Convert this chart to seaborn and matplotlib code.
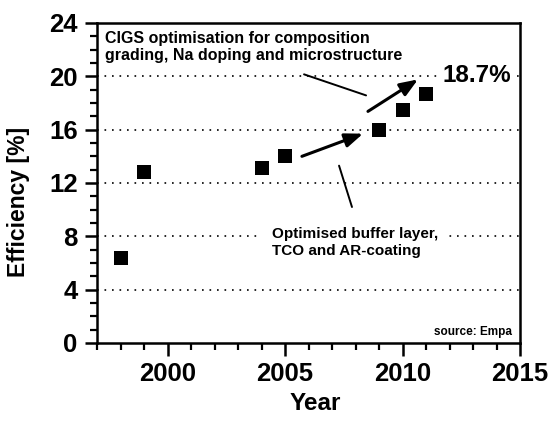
import matplotlib
matplotlib.use("Agg")
import matplotlib.pyplot as plt
import seaborn as sns
import pandas as pd
from matplotlib.ticker import MultipleLocator

# ---- data ----
years = [1998, 1999, 2004, 2005, 2009, 2010, 2011]
efficiency = [6.4, 12.8, 13.1, 14.0, 16.0, 17.5, 18.7]
grid_levels = [4, 8, 12, 16, 20]
x_ticks = [2000, 2005, 2010, 2015]
y_ticks = [0, 4, 8, 12, 16, 20, 24]

df = pd.DataFrame({"Year": years, "Efficiency": efficiency})

sns.set_theme(style="white")
plt.rcParams["font.family"] = ["Liberation Sans", "DejaVu Sans"]
plt.rcParams["text.color"] = "black"
plt.rcParams["axes.labelcolor"] = "black"
plt.rcParams["xtick.color"] = "black"
plt.rcParams["ytick.color"] = "black"

fig = plt.figure(figsize=(5.51, 4.25), dpi=100)
ax = fig.add_axes([97 / 551, 1 - 343 / 425, 423 / 551, 320 / 425])

for lv in grid_levels:
    ax.axhline(lv, color="black", lw=1.2, linestyle=(0, (1, 3.5)), zorder=1)

sns.scatterplot(data=df, x="Year", y="Efficiency", marker="s", s=110,
                color="black", edgecolor="black", linewidth=0, ax=ax, zorder=3)

ax.set_xlim(1997, 2015)
ax.set_ylim(0, 24)
ax.set_xticks(x_ticks)
ax.set_yticks(y_ticks)
ax.xaxis.set_minor_locator(MultipleLocator(1))
ax.yaxis.set_minor_locator(MultipleLocator(1))

for s in ax.spines.values():
    s.set_color("black")
    s.set_linewidth(1.8)

ax.tick_params(which="major", direction="out", length=9, width=1.8, colors="black",
               labelsize=18.5, pad=5, bottom=True, left=True)
ax.tick_params(which="minor", direction="out", length=5, width=1.6, colors="black",
               bottom=True, left=True)
for lab in ax.get_xticklabels() + ax.get_yticklabels():
    lab.set_fontweight("bold")
    lab.set_color("black")

ax.set_xlabel("Year", fontsize=17.5, fontweight="bold", color="black")
ax.set_ylabel("Efficiency [%]", fontsize=16.5, fontweight="bold", color="black")
ax.xaxis.set_label_coords(0.515, -0.153)
ax.yaxis.set_label_coords(-0.158, 0.44)

# ---- annotations ----
ax.text(1997.34, 23.4, "CIGS optimisation for composition\ngrading, Na doping and microstructure",
        fontsize=11.5, fontweight="bold", va="top", ha="left", linespacing=1.15, zorder=4,
        color="black")
ax.text(2011.72, 20.1, "18.7%", fontsize=17.5, fontweight="bold", va="center", ha="left",
        zorder=4, color="black", bbox=dict(facecolor="white", edgecolor="none", pad=1))
ax.text(2004.45, 8.7, "Optimised buffer layer,\nTCO and AR-coating",
        fontsize=11, fontweight="bold", va="top", ha="left", linespacing=1.3, zorder=4,
        color="black", bbox=dict(facecolor="white", edgecolor="none", pad=8))
ax.text(0.981, 0.034, "source: Empa", fontsize=8.5, fontweight="bold", color="black",
        transform=ax.transAxes, ha="right", va="center", zorder=4)

arrow_kw = dict(arrowstyle="-|>,head_length=0.9,head_width=0.35", color="black", lw=2.2,
                shrinkA=0, shrinkB=0)
ax.annotate("", xy=(2008.32, 15.7), xytext=(2005.72, 14.0), arrowprops=arrow_kw, zorder=4)
ax.annotate("", xy=(2010.66, 19.77), xytext=(2008.53, 17.37), arrowprops=arrow_kw, zorder=4)
ax.annotate("", xy=(2008.45, 18.57), xytext=(2005.81, 20.15),
            arrowprops=dict(arrowstyle="-", color="black", lw=1.4, shrinkA=0, shrinkB=0))
ax.annotate("", xy=(2007.85, 10.2), xytext=(2007.3, 13.3),
            arrowprops=dict(arrowstyle="-", color="black", lw=1.4, shrinkA=0, shrinkB=0))

fig.savefig("out.png", dpi=100)
